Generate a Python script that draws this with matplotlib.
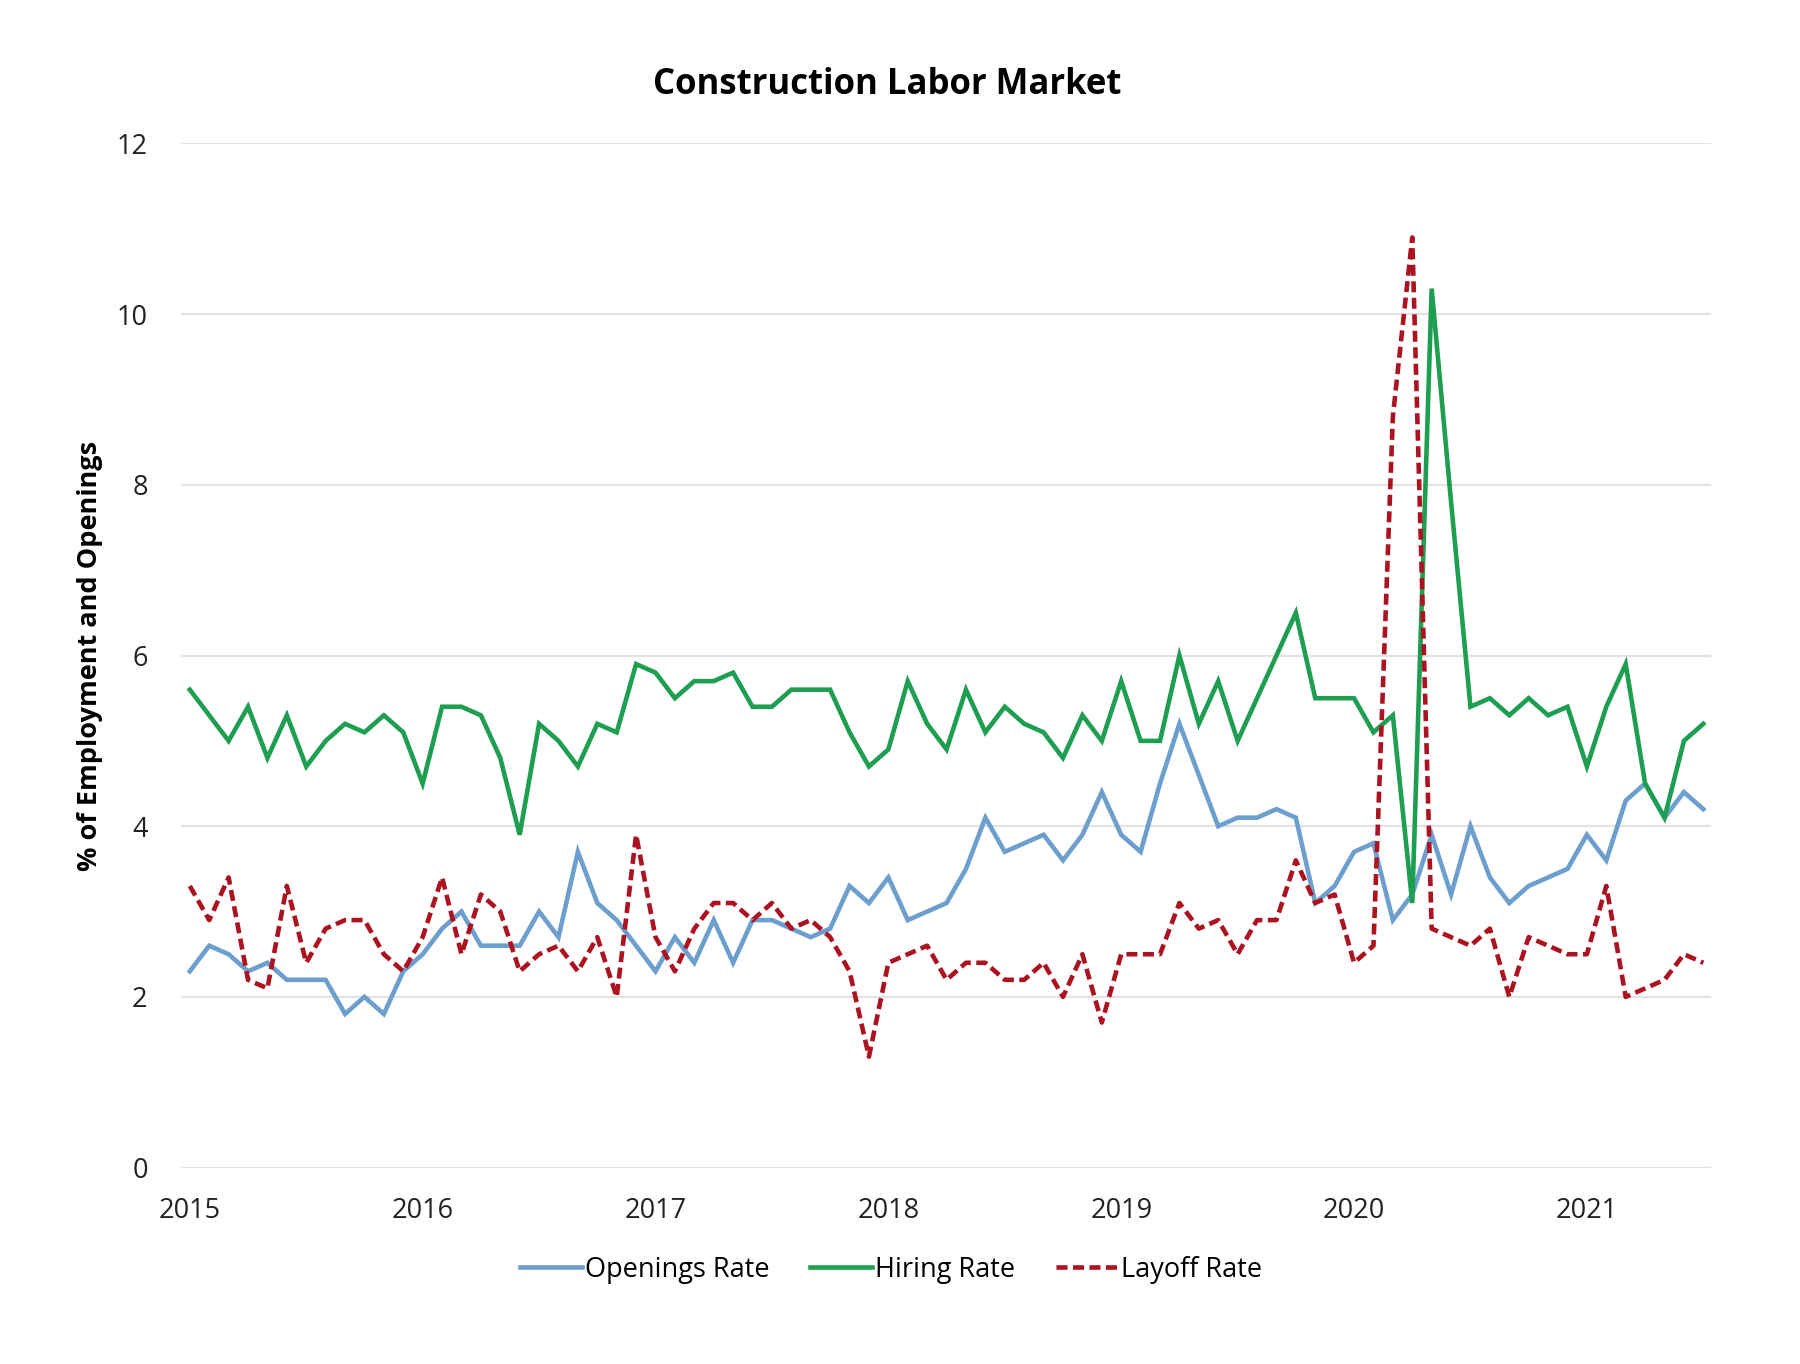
import matplotlib
matplotlib.use("Agg")
import matplotlib.pyplot as plt
import numpy as np

# Monthly data, Jan 2015 .. Jul 2021
years = [2015, 2016, 2017, 2018, 2019, 2020, 2021]

openings_rate = [2.3, 2.6, 2.5, 2.3, 2.4, 2.2, 2.2, 2.2, 1.8, 2.0, 1.8, 2.3,
                 2.5, 2.8, 3.0, 2.6, 2.6, 2.6, 3.0, 2.7, 3.7, 3.1, 2.9, 2.6,
                 2.3, 2.7, 2.4, 2.9, 2.4, 2.9, 2.9, 2.8, 2.7, 2.8, 3.3, 3.1,
                 3.4, 2.9, 3.0, 3.1, 3.5, 4.1, 3.7, 3.8, 3.9, 3.6, 3.9, 4.4,
                 3.9, 3.7, 4.5, 5.2, 4.6, 4.0, 4.1, 4.1, 4.2, 4.1, 3.1, 3.3,
                 3.7, 3.8, 2.9, 3.2, 3.9, 3.2, 4.0, 3.4, 3.1, 3.3, 3.4, 3.5,
                 3.9, 3.6, 4.3, 4.5, 4.1, 4.4, 4.2]

hiring_rate = [5.6, 5.3, 5.0, 5.4, 4.8, 5.3, 4.7, 5.0, 5.2, 5.1, 5.3, 5.1,
               4.5, 5.4, 5.4, 5.3, 4.8, 3.9, 5.2, 5.0, 4.7, 5.2, 5.1, 5.9,
               5.8, 5.5, 5.7, 5.7, 5.8, 5.4, 5.4, 5.6, 5.6, 5.6, 5.1, 4.7,
               4.9, 5.7, 5.2, 4.9, 5.6, 5.1, 5.4, 5.2, 5.1, 4.8, 5.3, 5.0,
               5.7, 5.0, 5.0, 6.0, 5.2, 5.7, 5.0, 5.5, 6.0, 6.5, 5.5, 5.5,
               5.5, 5.1, 5.3, 3.1, 10.3, 7.8, 5.4, 5.5, 5.3, 5.5, 5.3, 5.4,
               4.7, 5.4, 5.9, 4.5, 4.1, 5.0, 5.2]

layoff_rate = [3.3, 2.9, 3.4, 2.2, 2.1, 3.3, 2.4, 2.8, 2.9, 2.9, 2.5, 2.3,
               2.7, 3.4, 2.5, 3.2, 3.0, 2.3, 2.5, 2.6, 2.3, 2.7, 2.0, 3.9,
               2.7, 2.3, 2.8, 3.1, 3.1, 2.9, 3.1, 2.8, 2.9, 2.7, 2.3, 1.3,
               2.4, 2.5, 2.6, 2.2, 2.4, 2.4, 2.2, 2.2, 2.4, 2.0, 2.5, 1.7,
               2.5, 2.5, 2.5, 3.1, 2.8, 2.9, 2.5, 2.9, 2.9, 3.6, 3.1, 3.2,
               2.4, 2.6, 8.8, 10.9, 2.8, 2.7, 2.6, 2.8, 2.0, 2.7, 2.6, 2.5,
               2.5, 3.3, 2.0, 2.1, 2.2, 2.5, 2.4]

FONT = ["Open Sans", "DejaVu Sans"]
plt.rcParams["font.family"] = FONT

fig = plt.figure(figsize=(18, 13.64), dpi=100)
ax = fig.add_axes([0.1006, 0.1440, 0.8500, 0.7508])

x = np.arange(len(openings_rate))
c_blue = "#6C9FCE"
c_green = "#1E9E50"
c_red = "#AC1220"

ax.plot(x, openings_rate, color=c_blue, lw=3.3, label="Openings Rate", solid_joinstyle="miter")
ax.plot(x, hiring_rate, color=c_green, lw=3.3, label="Hiring Rate", solid_joinstyle="miter")
ax.plot(x, layoff_rate, color=c_red, lw=3.3, dashes=(2.4, 1.2), label="Layoff Rate")

ax.set_xlim(-0.45, 78.4)
ax.set_ylim(0, 12)
ax.set_yticks(range(0, 13, 2))
ax.set_xticks([12 * k for k in range(len(years))])
ax.set_xticklabels([str(y) for y in years])

ax.grid(axis="y", color="#E3E3E3", lw=1.6)
ax.set_axisbelow(True)
for s in ax.spines.values():
    s.set_visible(False)
ax.tick_params(axis="both", length=0, labelsize=19.5, colors="#222222")
ax.tick_params(axis="x", pad=21)
ax.tick_params(axis="y", pad=24)

ax.set_ylabel("% of Employment and Openings", fontsize=19.5, fontweight="bold", labelpad=10)
fig.text(0.4927, 0.938, "Construction Labor Market", ha="center", va="center",
         fontsize=25, fontweight="bold")

leg = fig.legend(loc="center", bbox_to_anchor=(0.495, 0.069), ncol=3, frameon=False,
                 fontsize=19.5, handlelength=2.3, handletextpad=0.1, columnspacing=1.5)

fig.savefig("out.png", dpi=100, facecolor="white")
